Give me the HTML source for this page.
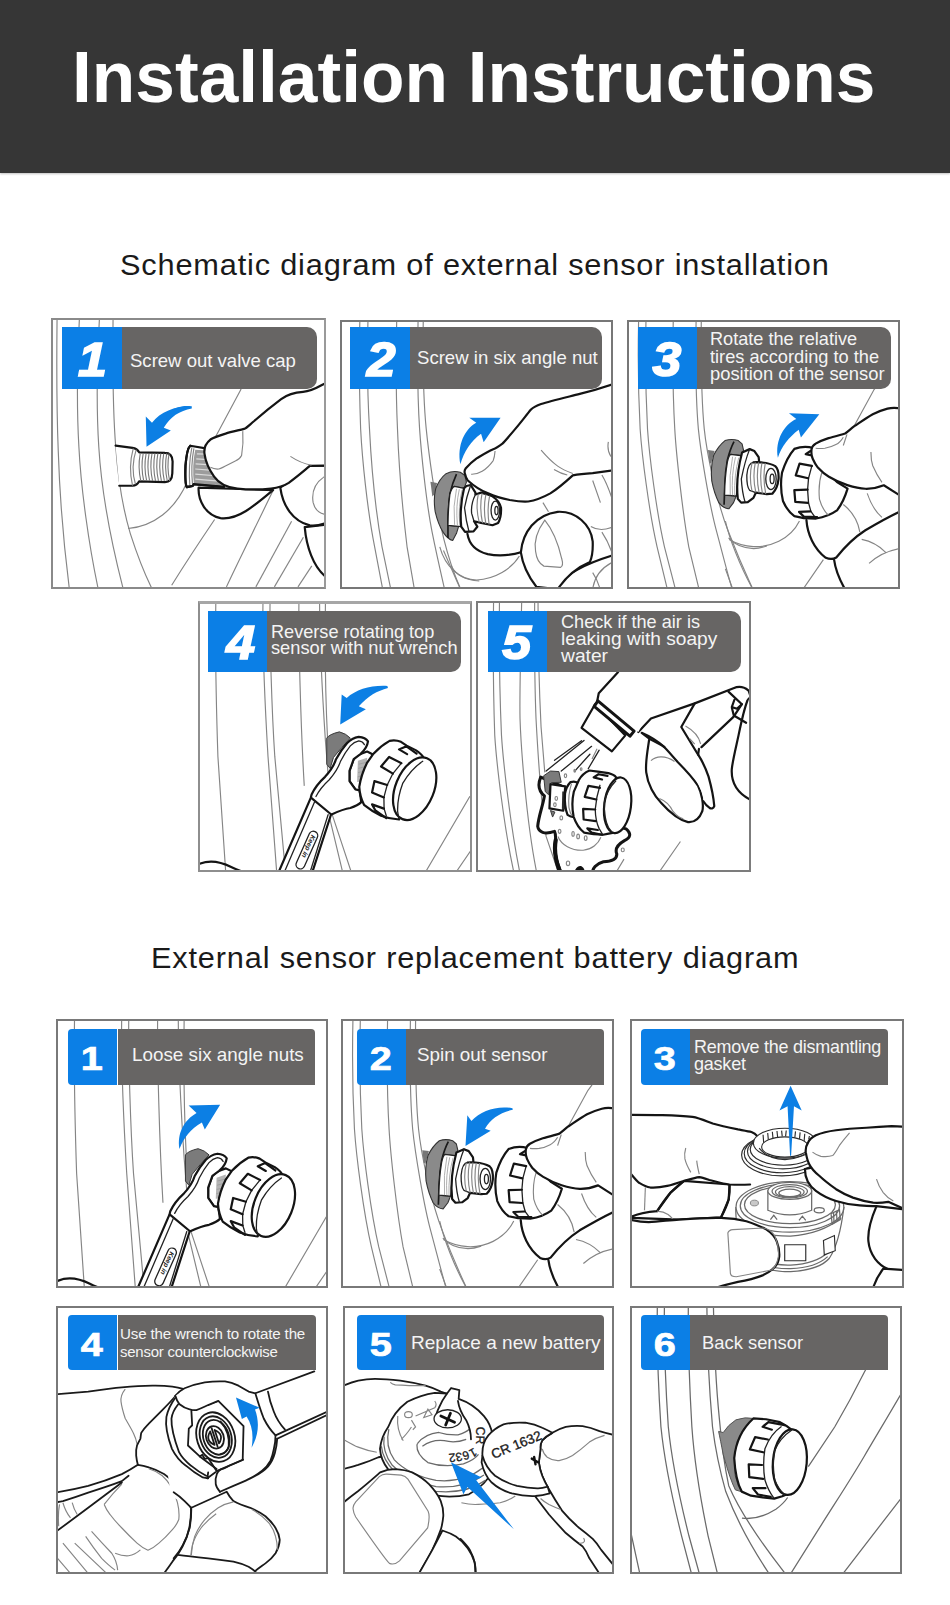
<!DOCTYPE html>
<html><head><meta charset="utf-8"><title>Installation Instructions</title>
<style>
html,body{margin:0;padding:0;background:#fff}
body{width:950px;height:1605px;position:relative;overflow:hidden;font-family:"Liberation Sans",sans-serif}
.hd{position:absolute;left:0;top:0;width:950px;height:172.5px;background:#363636;box-shadow:0 1px 2px rgba(0,0,0,.25)}
.ttl{position:absolute;left:72px;top:0;white-space:nowrap;color:#fff;font-weight:bold;font-size:72px;line-height:72px;transform-origin:0 0}
.sub{position:absolute;white-space:nowrap;color:#1a1a1a;font-size:29px;line-height:29px;transform-origin:0 0}
.pn{position:absolute;box-sizing:border-box;border:2px solid #808080;background:#fff;overflow:hidden}
.pn svg.il{position:absolute;left:-2px;top:-2px;display:block}
.bl{position:absolute;background:#0b7fe6}
.gl{position:absolute;background:#676564}
.nA,.nB{position:absolute;color:#fff;text-align:center;font-weight:bold}
.nA{font-style:italic;font-size:48px;-webkit-text-stroke:1.7px #fff;transform:translate(-0.5px,2.2px) scaleX(1.08)}
.nB{font-size:33px;-webkit-text-stroke:.7px #fff;transform:translate(-0.8px,2.4px) scaleX(1.2)}
.lt{position:absolute;white-space:nowrap;color:#f4f4f4;transform-origin:0 0}
.il *{vector-effect:non-scaling-stroke}
.k{stroke:#141414;stroke-width:2.2;fill:none;stroke-linecap:round;stroke-linejoin:round}
.kw{stroke:#141414;stroke-width:2.2;fill:#fff;stroke-linecap:round;stroke-linejoin:round}
.k1{stroke:#222;stroke-width:1.3;fill:none;stroke-linecap:round;stroke-linejoin:round}
.k1w{stroke:#222;stroke-width:1.3;fill:#fff;stroke-linecap:round;stroke-linejoin:round}
.k3w{stroke:#141414;stroke-width:3;fill:#fff;stroke-linecap:round;stroke-linejoin:round}
.kb{stroke:#1a1a1a;stroke-width:1.8;fill:none;stroke-linecap:round;stroke-linejoin:round}
.kbw{stroke:#1a1a1a;stroke-width:1.8;fill:#fff;stroke-linecap:round;stroke-linejoin:round}
.g{stroke:#858585;stroke-width:1.15;fill:none}
.gw{stroke:#858585;stroke-width:1.15;fill:#fff}
.gd{stroke:#6a6a6a;stroke-width:1.25;fill:none}
.rg{stroke:#2c2c2c;stroke-width:1.15;fill:none}
.rgw{stroke:#2c2c2c;stroke-width:1.15;fill:#fff}
.gdw{stroke:#6a6a6a;stroke-width:1.25;fill:#fff}
.g2{stroke:#9a9a9a;stroke-width:.8;fill:none}
.b{fill:#0c7fe4;stroke:none}
.dg{fill:#7b7b7b;stroke:#3a3a3a;stroke-width:1;stroke-linejoin:round}
.w{fill:#fff;stroke:none}
</style></head><body>
<div class="hd"></div>
<div class="ttl" id="ttl" style="letter-spacing:0.000px;transform:scaleX(0.9893);top:40.6px">Installation Instructions</div>
<div class="sub" id="s1" style="letter-spacing:0.771px;transform:scaleX(1.0598);left:120.2px;top:250.5px">Schematic diagram of external sensor installation</div>
<div class="sub" id="s2" style="letter-spacing:0.788px;transform:scaleX(1.0585);left:150.8px;top:944.2px">External sensor replacement battery diagram</div>

<div class="pn" style="left:51.0px;top:318.2px;width:275.3px;height:270.4px;border-color:#8a8a8a;border-width:2.5px 2.8px 2.2px 2px;border-right-color:#9a9a9a;">
<svg class="il" style="left:-2px;top:-2.5px" width="275.3" height="270.4" viewBox="51.0 318.2 275.3 270.4">
<!-- a1: left half, zoom offset (50,385) scale 6.786 -->
<g transform="translate(50,385) scale(0.14737)">
 <path class="g" d="M48,-460 C44,-100 50,300 56,450 C64,700 95,1100 132,1390"/>
 <path class="g" d="M200,-460 C182,-100 186,250 196,420 C210,700 262,1080 328,1390"/>
 <path class="g" d="M336,-460 C316,-100 320,250 331,420 C348,700 410,1050 498,1390"/>
 <path class="g" d="M428,-460 C424,-100 428,200 446,420 C462,640 500,860 545,1010 C590,1150 640,1280 695,1390"/>
 <path class="g" d="M530,975 C700,960 850,850 930,660"/>
 <!-- stem -->
 <path class="kw" d="M445,413 L560,428 Q590,432 605,458 L780,462 Q830,462 832,520 L830,600 Q828,660 780,660 L605,655 Q590,684 560,685 L470,685"/>
 <path class="g" d="M585,440 Q545,560 580,675 M565,432 Q530,560 560,684"/>
 <path d="M612,468 Q595,560 616,652 M632,468 Q615,560 636,652 M652,468 Q635,560 656,652 M672,468 Q655,560 676,652 M692,468 Q675,560 696,652 M712,466 Q695,560 716,652 M732,466 Q715,560 736,652 M752,466 Q735,560 756,652 M772,466 Q755,560 776,652 M792,466 Q775,560 796,652 M808,466 Q791,560 812,652" stroke="#777" stroke-width="1.1" fill="none"/>
 <!-- arrow -->
 <path class="b" d="M650,215 L655,420 L820,310 L772,292 C815,215 880,175 962,160 L962,146 C860,142 750,180 692,258 Z"/>
</g>
<!-- a1: right half, zoom offset (170,385) scale 5.9375 -->
<g transform="translate(170,385) scale(0.16842)">
 <path class="b" d="M-20,170 C30,130 80,122 128,128 C80,140 30,170 -20,215 Z"/>
 <path class="g" d="M505,-330 C470,-150 440,-20 420,30 L270,310"/>
 <path class="g" d="M10,1190 C60,1110 130,1000 265,800"/>
 <path class="g" d="M335,1200 C400,1060 500,860 612,628"/>
 <path class="g" d="M510,1200 L722,810"/>
 <path class="g" d="M620,1200 L792,905"/>
 <path class="g" d="M760,1200 L842,1075"/>
 <!-- cap -->
 <path class="kw" d="M120,362 Q100,380 92,480 Q88,590 100,608 L135,600 L140,590 L320,606 L330,560 L230,380 Z"/>
 <path class="g" d="M130,372 Q108,480 118,600 M142,378 Q122,480 134,596"/>
 <path d="M150,385 L215,390 L325,600 L142,588 Q130,480 150,385Z" fill="#9c9c9c"/>
 <path d="M160,410 L215,412 M156,440 L225,444 M152,470 L240,476 M150,500 L255,508 M150,530 L270,540 M150,560 L290,572" stroke="#dcdcdc" stroke-width="1.2" fill="none"/>
 <path class="k" d="M120,362 Q100,380 92,480 Q88,590 100,608 L135,600 L140,590 L320,606"/>
 <!-- thumb under -->
 <path class="kw" d="M170,610 C165,690 215,775 300,792 C400,805 500,720 612,625 Z"/>
 <!-- 2nd / 3rd fingers -->
 <path class="kw" d="M800,845 C810,960 850,1080 925,1140 L925,830 Z"/>
 <path class="kw" d="M655,610 C670,720 730,810 830,835 C870,840 900,830 925,820 L925,480 L830,480 Z"/>
 <path class="g" d="M925,540 C860,580 840,640 850,700 C860,740 890,765 925,770"/>
 <!-- index finger -->
 <path class="kw" d="M925,-10 L905,0 C860,25 820,40 790,42 C740,45 700,55 660,85 C600,130 540,180 500,215 C470,240 455,258 440,262 C400,272 360,280 330,290 C290,302 255,315 240,325 C215,345 200,375 205,410 C210,450 230,500 262,545 C290,585 340,610 400,616 C460,622 540,622 600,616 C650,610 680,598 705,582 C750,550 790,515 830,482 L925,480 Z"/>
 <path class="g" d="M432,275 C436,330 432,380 425,420 C415,440 400,448 388,452 C350,470 320,490 290,500 C270,502 255,498 240,490"/>
 <path class="g" d="M715,425 C745,445 790,468 840,478"/>
</g>

</svg></div>
<div class="bl" style="left:62.4px;top:327.4px;width:59.8px;height:61.9px;border-radius:0"></div>
<div class="gl" style="left:122.2px;top:327.4px;width:194.5px;height:61.9px;border-radius:0 10px 10px 0"></div>
<div class="nA" style="left:63.4px;top:327.4px;width:59.8px;height:61.9px;line-height:61.9px">1</div>
<div class="lt" id="t_a1_0" style="left:130.2px;top:351.5px;font-size:18.5px;line-height:18.5px;letter-spacing:0.000px;transform:scaleX(1.0020)">Screw out valve cap</div>
<div class="pn" style="left:340.2px;top:320.3px;width:272.8px;height:268.4px;border-color:#777;border-width:2px 2px 2px 2px;">
<svg class="il" style="left:-2px;top:-2px" width="272.8" height="268.4" viewBox="340.2 320.3 272.8 268.4">
<!-- a2 left: offset (338,385) scale 6.786 -->
<g transform="translate(338,385) scale(0.14737)">
 <path class="g" d="M150,-450 C140,-100 150,150 155,300 C165,500 200,850 250,1100 L305,1390"/>
 <path class="g" d="M205,-450 C196,-100 206,150 215,300 C225,500 255,850 300,1100 L360,1390"/>
 <path class="g" d="M400,-450 C392,-100 398,150 405,300 C412,500 440,850 470,1100 L520,1390"/>
 <path class="g" d="M545,-450 C538,-100 545,150 555,300 C565,450 600,800 640,1000 C670,1150 700,1280 725,1390"/>
 <path class="g" d="M580,-450 C575,-100 585,150 600,300 C615,450 660,800 720,1050 C750,1170 790,1290 835,1390"/>
 <path class="g" d="M770,1230 C800,1290 860,1325 960,1332"/>
 <!-- grommet: offset (415,455) scale 10.556 -->
 <g transform="translate(522.5,475) scale(0.64286)">
 <path d="M165,285 L235,300 L205,420 L185,440Z" fill="#777"/>
 <path d="M480,185 Q400,165 330,200 Q260,255 220,360 Q195,470 215,600 Q245,730 300,820 Q350,895 400,905 L440,830 L462,760 L350,745 Q352,560 370,420 Q390,330 420,335 L520,355 L545,290 L530,220 Z" fill="#8a8a8a" stroke="#333" stroke-width="1.1" stroke-linejoin="round"/>
 <path d="M440,205 Q395,300 370,420 Q352,560 350,700 L350,880" fill="none" stroke="#1a1a1a" stroke-width="1.7"/>
 <path class="k1w" d="M420,335 L520,355 Q478,560 490,760 L350,745 Q352,560 370,420 Q390,345 420,335Z"/>
 <path class="g2" d="M440,360 Q400,540 420,740 M470,365 Q430,540 450,745 M500,370 Q455,540 475,750"/>
 </g>
</g>
<!-- a2 right: offset (440,385) scale 5.4286 -->
<g transform="translate(440,385) scale(0.18421)">
 <path class="g" d="M0,880 C30,990 110,1060 200,1060 C300,1055 390,1000 432,930"/>
 <path class="g" d="M20,900 L112,1110"/>
 <!-- lower finger -->
 <path class="w" d="M150,810 C160,870 200,905 260,920 C330,935 390,925 445,908 L470,1020 L520,1095 L640,1110 L700,1020 L820,962 L945,925 L945,465 L600,600 L200,780 Z"/>
 <path class="k" d="M150,810 C160,870 200,905 260,920 C330,935 390,925 445,908"/>
 <path class="k" d="M632,1100 C690,1020 810,965 945,925"/>
 <path class="g" d="M830,1110 C840,1040 880,990 945,960"/>
 <!-- thumb -->
 <path class="kw" d="M440,910 C450,800 520,705 640,690 C740,685 820,760 830,850 C832,900 825,940 815,962 C760,985 700,1020 640,1110 L525,1098 C480,1040 450,980 440,910Z"/>
 <path class="g" d="M570,735 C530,790 510,850 520,905 C525,945 545,975 565,985 L655,992 C670,985 668,965 662,945 C645,870 615,790 570,735Z"/>
 <!-- nut + thread: offset (415,455) scale 10.556 -->
 <g transform="translate(-135.7,380) scale(0.51429)">
 <path class="kw" d="M545,330 L590,320 L640,400 L640,420 L700,400 Q780,420 820,440 Q895,490 910,560 Q915,660 880,720 L820,745 L700,720 L625,702 L660,760 L620,810 L530,815 L490,760 Q470,560 520,355 Z"/>
 <path class="k1" d="M640,420 Q590,520 600,620 L625,702 M590,320 Q545,450 525,560 Q540,700 572,812"/>
 <ellipse class="k1" cx="850" cy="590" rx="45" ry="100"/><ellipse class="k1" cx="862" cy="590" rx="17" ry="44"/>
 <path class="g" d="M670,415 Q640,560 680,715 M710,405 Q680,560 715,722 M750,418 Q720,570 750,730 M790,432 Q760,580 785,738"/>
 </g>
 <!-- arrow -->
 <path class="b" d="M112,432 C92,330 135,240 198,206 L160,180 L330,180 L238,312 L224,266 C170,305 130,365 112,432Z"/>
 <!-- index finger -->
 <path class="kw" d="M945,-5 L930,0 C870,20 800,40 760,50 C690,68 600,90 550,105 C520,115 505,125 495,135 C470,165 440,205 410,240 C385,270 360,300 340,320 C320,335 305,345 290,350 C255,365 225,385 200,400 C175,418 155,438 140,455 C133,465 133,475 137,485 C140,500 145,512 152,520 C185,550 225,575 262,590 C300,607 340,618 380,626 C420,633 455,636 480,634 C520,628 560,612 600,590 C640,565 680,530 722,492 C760,485 800,482 830,480 L945,465Z"/>
 <path class="g" d="M300,360 C298,385 295,400 290,412 C270,440 250,458 230,470 C210,482 190,487 170,486"/>
 <path class="g" d="M550,355 C580,390 610,420 640,442 C665,460 695,472 722,482 M620,460 C645,475 668,485 692,490"/>
 <path class="g" d="M830,520 L872,640 M880,490 C910,540 930,600 945,650"/>
 <path class="g" d="M820,770 C860,795 900,790 945,770 M880,800 C900,830 920,870 932,905 M830,1020 C850,1050 862,1080 870,1110 M915,310 C910,340 915,370 930,390"/>
 <path class="g" d="M560,640 L590,690"/>
</g>

</svg></div>
<div class="bl" style="left:350.3px;top:327.4px;width:59.5px;height:61.5px;border-radius:0"></div>
<div class="gl" style="left:409.8px;top:327.4px;width:192.5px;height:61.5px;border-radius:0 10px 10px 0"></div>
<div class="nA" style="left:352.3px;top:327.4px;width:59.5px;height:61.5px;line-height:61.5px">2</div>
<div class="lt" id="t_a2_0" style="left:417.2px;top:348.5px;font-size:18.5px;line-height:18.5px;letter-spacing:0.000px;transform:scaleX(1.0042)">Screw in six angle nut</div>
<div class="pn" style="left:626.6px;top:320.3px;width:273.4px;height:268.4px;border-color:#777;border-width:2px 2px 2px 2px;">
<svg class="il" style="left:-2px;top:-2px" width="273.4" height="268.4" viewBox="626.6 320.3 273.4 268.4">
<g id="spn">
<!-- a3 left: offset (625,385) scale 6.786 -->
<g transform="translate(625,385) scale(0.14737)">
 <path class="g" d="M90,-450 C82,-100 92,150 100,300 C112,480 160,860 215,1100 L285,1390"/>
 <path class="g" d="M140,-450 C132,-100 142,150 150,300 C162,480 210,860 265,1100 L340,1390"/>
 <path class="g" d="M325,-450 C318,-100 326,150 335,300 C345,480 390,880 430,1100 L500,1390"/>
 <path class="g" d="M480,-450 C474,-100 482,150 495,300 C510,450 570,820 620,1000 C655,1130 690,1270 725,1390"/>
 <path class="g" d="M515,-450 C512,-100 520,150 535,300 C550,450 620,800 700,1000 C750,1130 810,1270 866,1390"/>
 <path class="g" d="M700,1040 C740,1085 800,1110 870,1112 C900,1112 930,1105 960,1095"/>
 <!-- grommet: offset (700,430) scale 10.556 -->
 <g transform="translate(508.9,305.4) scale(0.64286)">
 <path d="M80,215 L150,225 L112,360 L95,345Z" fill="#777"/>
 <path d="M400,115 Q330,92 260,115 Q190,170 140,270 Q105,400 120,540 Q145,670 195,770 Q240,830 300,835 L350,770 L378,700 L255,690 Q258,500 285,340 Q300,265 320,260 L440,275 L455,215 L440,150Z" fill="#8a8a8a" stroke="#333" stroke-width="1.1" stroke-linejoin="round"/>
 <path d="M355,125 Q315,200 285,320 Q262,450 258,580 L250,792" fill="none" stroke="#1a1a1a" stroke-width="1.7"/>
 <path class="k1w" d="M320,260 L440,275 Q395,460 380,700 L255,690 Q258,500 285,340 Q300,270 320,260Z"/>
 <path class="g2" d="M340,285 Q300,480 315,690 M370,290 Q325,480 340,692 M405,295 Q355,480 362,696"/>
 </g>
</g>
<!-- a3 right: offset (725,385) scale 5.4286 -->
<g transform="translate(725,385) scale(0.18421)">
 <path class="g" d="M20,840 C100,885 200,895 290,850 C340,825 380,785 402,740"/>
 <path class="g" d="M0,740 C20,830 80,990 152,1115 M425,1105 L532,950 M0,1000 L42,1115"/>
 <path class="g" d="M870,-80 C850,-30 830,0 805,30 L690,240"/>
 <!-- nut + thread: offset (700,430) scale 10.556 -->
 <g transform="translate(-135.7,244.3) scale(0.51429)">
 <path class="kw" d="M440,240 L520,205 L570,225 L615,290 L620,340 L560,345 L640,345 Q740,355 790,385 Q830,420 825,520 Q815,620 760,675 L700,680 L585,665 L560,720 L500,765 L430,770 L395,730 Q370,500 440,240Z"/>
 <path class="k1" d="M560,345 Q500,350 490,480 Q488,600 520,640 L585,665 M520,205 Q470,330 432,520 Q440,660 472,766"/>
 <ellipse class="k1" cx="745" cy="520" rx="55" ry="112"/><ellipse class="k1" cx="757" cy="520" rx="21" ry="50"/>
 <path class="g" d="M545,350 Q510,500 545,650 M580,345 Q548,500 585,662 M615,345 Q585,500 620,668 M650,348 Q620,500 655,675 M685,352 Q655,505 690,680"/>
 </g>
 <!-- lower fingers -->
 <path class="w" d="M440,735 C445,810 480,890 545,940 L590,950 L610,1030 L652,1115 L945,1115 L945,600 L660,600Z"/>
 <path class="g" d="M640,650 C690,690 720,740 730,800 M770,590 C790,650 820,695 850,720 M740,840 C790,850 840,880 870,910 M780,970 C830,925 890,900 945,890"/>
 <path class="k" d="M440,735 C445,810 480,890 545,940 C570,950 590,945 602,938 C640,890 690,835 760,790 C820,755 880,720 945,690 M590,950 C598,1010 620,1060 652,1115"/>
 <!-- sensor cap: offset (775,435) scale 10.556 -->
 <g transform="translate(271.4,271.4) scale(0.51429)">
 <path class="kw" d="M400,140 Q300,112 200,150 Q120,240 70,400 Q45,550 80,700 Q125,805 200,860 L300,880 L430,885 Q560,865 650,800 Q720,710 762,570 L650,500 L450,300 Z"/>
 <path class="k1" d="M385,330 L350,460 L340,580 L350,720 L375,810 L420,872"/>
 <path class="k" d="M385,330 L255,305 L215,430 L345,460 M340,580 L200,585 L210,710 L345,720 M375,170 L320,205 L370,215 M370,810 L250,815 L300,865 L440,870"/>
 <path class="g" d="M490,400 Q450,520 465,680 Q495,790 560,850"/>
 </g>
 <!-- index finger -->
 <path class="kw" d="M945,128 C920,124 895,126 880,130 C850,138 825,148 800,160 C765,180 730,205 700,225 C680,240 665,255 650,265 C620,275 590,282 560,290 C535,298 510,308 490,320 C478,328 470,338 468,350 C465,370 468,388 474,402 C482,420 492,438 502,450 C520,470 540,488 562,500 C595,520 630,535 662,545 C695,555 730,563 760,565 C795,566 830,558 860,546 L945,600Z"/>
 <path class="g" d="M640,285 C628,305 615,318 600,325 C580,336 560,342 540,345 C522,347 505,347 490,345"/>
 <path class="g" d="M660,270 L640,330 M790,365 C790,400 795,425 800,440 C815,475 832,505 850,530"/>
</g>
</g>
<g transform="translate(725,385) scale(0.18421)">
 <path class="b" d="M285,397 C268,300 320,215 385,186 L345,155 L510,160 L410,287 L398,245 C345,285 305,335 285,397Z"/>
</g>

</svg></div>
<div class="bl" style="left:638.3px;top:327.4px;width:58.9px;height:61.9px;border-radius:0"></div>
<div class="gl" style="left:697.2px;top:327.4px;width:193.9px;height:61.9px;border-radius:0 10px 10px 0"></div>
<div class="nA" style="left:638.3px;top:327.4px;width:58.9px;height:61.9px;line-height:61.9px">3</div>
<div class="lt" id="t_a3_0" style="left:709.9px;top:330.2px;font-size:18.5px;line-height:18.5px;letter-spacing:0.000px;transform:scaleX(0.9796)">Rotate the relative</div>
<div class="lt" id="t_a3_1" style="left:709.9px;top:347.6px;font-size:18.5px;line-height:18.5px;letter-spacing:0.000px;transform:scaleX(0.9847)">tires according to the</div>
<div class="lt" id="t_a3_2" style="left:709.9px;top:364.7px;font-size:18.5px;line-height:18.5px;letter-spacing:0.000px;transform:scaleX(0.9923)">position of the sensor</div>
<div class="pn" style="left:198.2px;top:601.0px;width:273.4px;height:271.1px;border-color:#8e8e8e;border-width:3.5px 2.6px 2.2px 2px;border-top-color:#a6a6a6;">
<svg class="il" style="left:-2px;top:-3.5px" width="273.4" height="271.1" viewBox="198.2 601.0 273.4 271.1">
<!-- a4 whole: offset (196,668) scale 3.393 -->
<g transform="translate(196,668) scale(0.29474)">
 <path class="g" d="M68,-230 C66,-100 70,150 75,300 L102,700"/>
 <path class="g" d="M228,-230 C226,-100 236,150 245,300 L275,700"/>
 <path class="g" d="M252,-230 C250,-100 258,150 268,300 L305,700"/>
 <path class="g" d="M350,-230 C348,-100 356,200 368,400"/>
 <path class="g" d="M420,-230 C420,-100 430,100 440,250 L452,400"/>
 <path class="g" d="M440,-230 C438,-100 440,100 447,240"/>
 <path class="g" d="M452,500 L500,700 M462,495 L530,700"/>
 <path class="g" d="M930,435 L775,700 M950,595 L878,700"/>
 <path class="k" d="M5,668 C40,650 80,655 120,675 C140,685 160,692 180,698"/>
 <path class="b" d="M495,90 L490,192 L577,140 L553,130 C585,95 615,78 652,68 L650,61 C595,58 545,72 512,102Z"/>
</g>
<!-- a4 detail: offset (300,680) scale 5.9375 ; reusable wrench+sensor -->
<g id="wrs"><g transform="translate(300,680) scale(0.16842)">
 <!-- grommet -->
 <path class="dg" d="M160,345 Q175,322 235,308 Q275,318 300,345 L250,400 L200,460 L180,525 L160,500Z"/>
 <!-- nut + thread -->
 <path class="kw" d="M320,470 L345,445 L400,425 L440,445 L420,640 L355,655 L330,650 L295,600 L295,540Z"/>
 <path d="M345,480 L400,462 L392,600 L340,605Z" fill="#b5b5b5"/>
 <path class="g2" d="M350,500 L398,488 M348,525 L396,512 M346,550 L395,538 M344,575 L394,563"/>
 <!-- wrench -->
 <path class="kw" d="M405,365 Q390,342 350,338 Q310,345 280,375 Q245,415 215,470 Q200,520 150,575 Q95,625 70,680 L65,700 L-173,1250 L39,1250 L185,800 Q260,765 300,760 Q345,745 365,725 L355,655 L330,650 L295,600 L295,540 L320,470 L360,440 Q400,405 405,365Z"/>
 <path class="k1" d="M384,384 Q374,364 350,361 Q322,367 300,391 Q270,428 242,482 Q225,535 175,592 Q122,640 96,692"/>
 <path class="k" d="M68,700 L185,797"/>
 <path class="k1" d="M90,718 L-130,1230 M168,800 L30,1240"/>
 <g transform="translate(42,1010) rotate(-66)"><rect class="k1w" x="-120" y="-26" width="240" height="52" rx="26"/>
  <text x="-96" y="13" font-family="Liberation Sans" font-weight="bold" font-style="italic" font-size="40" fill="#222" transform="rotate(180)">Keep in</text></g>
 </g>
 <!-- sensor: offset (350,730) scale 10.556 -->
 <g transform="translate(350,730) scale(0.094737)">
 <path class="kw" d="M250,250 Q330,165 420,115 Q480,100 540,125 L600,165 L700,215 Q760,255 778,292 L520,945 Q420,940 330,905 Q230,855 150,790 Q105,700 100,600 Q120,470 180,350 Z"/>
 <path class="k1" d="M545,350 L455,460 L395,580 L360,712 L362,830 L385,905"/>
 <path class="k" d="M545,350 L415,285 L330,385 L455,460 M395,580 L260,540 L235,660 L360,712 M605,255 L520,205 L598,172 L705,250 M360,830 L235,785 L270,850 L385,930"/>
 <ellipse class="kw" cx="685" cy="620" rx="203" ry="346" transform="rotate(22 685 620)"/>
 <path class="k1" d="M770,330 Q650,410 560,560 Q500,720 505,860 Q510,910 525,935"/>
 </g>
</g>

</svg></div>
<div class="bl" style="left:208.3px;top:610.9px;width:58.3px;height:60.7px;border-radius:0"></div>
<div class="gl" style="left:266.6px;top:610.9px;width:194.5px;height:60.7px;border-radius:0 10px 10px 0"></div>
<div class="nA" style="left:212.3px;top:610.9px;width:58.3px;height:60.7px;line-height:60.7px">4</div>
<div class="lt" id="t_a4_0" style="left:270.7px;top:622.6px;font-size:18.5px;line-height:18.5px;letter-spacing:0.000px;transform:scaleX(0.9802)">Reverse rotating top</div>
<div class="lt" id="t_a4_1" style="left:270.7px;top:639.4px;font-size:18.5px;line-height:18.5px;letter-spacing:0.000px;transform:scaleX(0.9862)">sensor with nut wrench</div>
<div class="pn" style="left:476.3px;top:601.0px;width:274.7px;height:270.8px;border-color:#7c7c7c;border-width:2px 2px 2px 2px;">
<svg class="il" style="left:-2px;top:-2px" width="274.7" height="270.8" viewBox="476.3 601.0 274.7 270.8">
<!-- a5 left-bottom: offset (474,668) scale 5.9375 -->
<g transform="translate(474,668) scale(0.16842)">
 <path class="g" d="M118,-400 C114,-100 118,200 125,400 C135,560 180,950 240,1220"/>
 <path class="g" d="M153,-400 C150,-100 156,200 165,400 C175,560 220,950 275,1220"/>
 <path class="g" d="M285,-400 C278,-100 272,150 275,300 C280,450 310,900 375,1220"/>
 <path class="g" d="M362,-400 C360,-100 364,150 370,300 C378,450 400,800 430,1000 L505,1220"/>
 <path class="g" d="M382,-400 C382,-100 390,150 400,350 L422,620"/>
 <path class="g" d="M500,1000 C520,1050 580,1085 650,1082 C700,1078 740,1045 755,1005"/>
 <!-- spray -->
 <path class="k1" d="M655,430 L430,612 M640,432 L480,548 M700,465 L520,612 M690,512 L600,612 M745,488 L680,598" stroke-width=".9"/>
 <!-- soap blob -->
 <path class="k3w" d="M398,648 C380,690 385,730 420,760 C410,820 385,880 380,940 C385,975 420,990 480,970 C495,1000 480,1050 482,1080 C485,1140 505,1180 525,1230 L705,1230 C700,1190 730,1160 770,1150 C810,1150 850,1140 850,1105 C835,1070 860,1045 895,1025 C935,1005 935,980 905,955 L700,900 L520,700Z"/>
 <path d="M592,1230 C598,1192 622,1168 642,1178 C660,1190 662,1212 655,1230Z" fill="#111"/>
 <path d="M487,1022 C476,1080 484,1140 514,1215" stroke="#111" stroke-width="4.2" fill="none" stroke-linecap="round"/>
 <path class="g" d="M500,1000 C520,1050 580,1085 650,1082 C700,1078 740,1045 755,1005"/>
 <g class="g" fill="#fff"><ellipse cx="545" cy="640" rx="7" ry="11"/><ellipse cx="520" cy="890" rx="8" ry="12"/><ellipse cx="510" cy="970" rx="8" ry="12"/><ellipse cx="590" cy="985" rx="7" ry="14"/><ellipse cx="620" cy="1000" rx="8" ry="14"/><ellipse cx="665" cy="1010" rx="8" ry="14"/><ellipse cx="885" cy="1080" rx="9" ry="11"/><ellipse cx="560" cy="1160" rx="10" ry="14"/><ellipse cx="600" cy="610" rx="5" ry="8"/><ellipse cx="638" cy="600" rx="5" ry="8"/></g>
 <!-- grommet, nut, sensor: offset (535,760) scale 9.5 -->
 <g transform="translate(362.2,546.3) scale(0.625)">
 <path class="dg" d="M85,150 L150,105 L230,110 L252,212 L160,215 L150,230 L132,330 L100,300Z M150,480 L192,495 L170,542Z"/>
 <path class="kw" d="M150,230 L290,250 L272,482 L140,460Z"/>
 <g class="g" fill="#fff"><ellipse cx="205" cy="365" rx="12" ry="18"/><ellipse cx="192" cy="425" rx="12" ry="18"/></g>
 <path d="M262,300 L300,300 L292,470 L258,462Z" fill="#2a2a2a"/>
 <path class="kw" d="M340,210 Q395,196 415,225 L380,535 Q350,548 312,522 Q280,440 288,320 Q300,250 340,210Z"/>
 <path class="g" d="M350,225 Q315,330 325,450 Q335,505 355,530"/>
 <path class="kw" d="M420,190 Q455,128 520,100 L600,110 L700,125 Q755,140 772,162 L740,692 L690,702 L650,710 L560,705 L470,690 Q405,640 370,540 Q345,420 372,300 Z"/>
 <path class="k1" d="M620,240 Q585,350 575,470 Q578,580 612,652 L642,702"/>
 <path class="k" d="M620,265 L510,245 L475,350 L585,375 M575,470 L460,465 L465,565 L580,580 M640,185 L560,165 L606,135 L692,150 M600,665 L500,650 L540,690 L640,710"/>
 <ellipse class="kw" cx="788" cy="430" rx="127" ry="266" transform="rotate(7 788 430)"/>
 <path class="k1" d="M770,200 Q690,280 662,400 Q655,540 700,640 L732,682"/>
 </g>
</g>
<!-- a5 right: offset (594,668) scale 5.9375 -->
<g transform="translate(594,668) scale(0.16842)">
 <path class="g" d="M515,1030 L390,1210 M180,1135 L135,1210 M890,520 L925,500 M20,480 L-10,540"/>
 <!-- other hand part right -->
 <path class="kw" d="M930,150 C905,200 880,300 860,400 C845,470 825,550 820,600 C815,680 850,740 930,782Z"/>
 <!-- sprayer head -->
 <path class="w" d="M265,380 L340,300 L600,210 L830,120 Q880,100 920,135 L930,165 L880,215 L830,290 L640,470 L625,520 L520,350 L420,470 Z"/>
 <path class="k" d="M265,380 L340,300 L600,210 L830,120 Q880,100 920,135 L930,165 M640,470 L830,290 L880,215"/>
 <path class="k" d="M600,210 L520,350 L620,515 M800,140 L880,215 M835,190 L820,232 L850,242 L880,215 M820,235 L832,282 L905,325"/>
 <!-- bottle + nozzle -->
 <path class="w" d="M175,-20 L140,30 L30,150 L20,200 L265,380 L600,-250Z"/>
 <path class="k" d="M175,-20 L140,30 L30,150 L20,200"/>
 <path class="kw" d="M8,215 L-72,355 L108,495 L188,400Z"/>
 <path class="k3w" d="M25,195 L240,375 L215,405 L3,228Z"/>
 <!-- finger -->
 <path class="kw" d="M285,385 L330,420 C322,480 305,560 312,620 C320,690 360,760 400,800 C440,845 500,900 560,915 C600,918 630,890 645,850 C655,810 640,740 620,700 C580,640 530,590 500,560 C470,525 440,490 420,470 C380,435 320,400 285,385Z"/>
 <path class="k" d="M330,420 C370,440 400,455 420,470"/>
 <path class="w" d="M620,515 C650,560 670,610 682,645 C700,710 712,770 716,820 Q708,840 690,832 Q665,815 650,790 C655,760 640,730 625,700 L560,560Z"/>
 <path class="k" d="M620,515 C650,560 670,610 682,645 C700,710 712,770 716,820 Q708,840 690,832 Q665,815 650,790"/>
 <path class="k" d="M625,480 L620,515"/>
 <path class="g" d="M340,550 C370,525 420,515 480,555 M390,775 C430,790 455,820 470,850 C490,875 510,890 532,896 M545,345 C590,370 625,410 635,450 M570,420 L600,452"/>
</g>

</svg></div>
<div class="bl" style="left:488.3px;top:610.9px;width:58.3px;height:60.7px;border-radius:0"></div>
<div class="gl" style="left:546.6px;top:610.9px;width:194.5px;height:60.7px;border-radius:0 10px 10px 0"></div>
<div class="nA" style="left:488.3px;top:610.9px;width:58.3px;height:60.7px;line-height:60.7px">5</div>
<div class="lt" id="t_a5_0" style="left:561.0px;top:612.9px;font-size:18.5px;line-height:18.5px;letter-spacing:0.000px;transform:scaleX(0.9796)">Check if the air is</div>
<div class="lt" id="t_a5_1" style="left:561.0px;top:630.0px;font-size:18.5px;line-height:18.5px;letter-spacing:0.000px;transform:scaleX(1.0339)">leaking with soapy</div>
<div class="lt" id="t_a5_2" style="left:561.0px;top:647.1px;font-size:18.5px;line-height:18.5px;letter-spacing:0.000px;transform:scaleX(1.0387)">water</div>
<div class="pn" style="left:55.5px;top:1019.2px;width:272.6px;height:269.2px;border-color:#797979;border-width:2px 2px 2px 2px;">
<svg class="il" style="left:-2px;top:-2px" width="272.6" height="269.2" viewBox="55.5 1019.2 272.6 269.2">
<!-- b1: offset (54,1085) scale 3.393 (same art as a4) -->
<g transform="translate(54,1085) scale(0.29474)">
 <path class="g" d="M68,-230 C66,-100 70,150 75,300 L102,700"/>
 <path class="g" d="M228,-230 C226,-100 236,150 245,300 L275,700"/>
 <path class="g" d="M252,-230 C250,-100 258,150 268,300 L305,700"/>
 <path class="g" d="M350,-230 C348,-100 356,200 368,400"/>
 <path class="g" d="M420,-230 C420,-100 430,100 440,250 L452,400"/>
 <path class="g" d="M440,-230 C438,-100 440,100 447,240"/>
 <path class="g" d="M452,500 L500,700 M462,495 L530,700"/>
 <path class="g" d="M930,435 L775,700 M950,595 L878,700"/>
 <path class="k" d="M5,668 C40,650 80,655 120,675 C140,685 160,692 180,698"/>
 <path class="b" d="M424,218 C415,165 440,120 482,96 L455,70 L562,68 L510,152 L500,128 C462,150 438,180 424,218Z"/>
</g>
<use href="#wrs" transform="translate(-142,417)"/>

</svg></div>
<div class="bl" style="left:68.3px;top:1029.4px;width:49.2px;height:55.8px;border-radius:4px 0 0 4px"></div>
<div class="gl" style="left:117.5px;top:1029.4px;width:197.9px;height:55.8px;border-radius:0 4px 0 0"></div>
<div class="nB" style="left:68.3px;top:1029.4px;width:49.2px;height:55.8px;line-height:55.8px">1</div>
<div class="lt" id="t_b1_0" style="left:132.2px;top:1046.4px;font-size:18.5px;line-height:18.5px;letter-spacing:0.000px;transform:scaleX(1.0185)">Loose six angle nuts</div>
<div class="pn" style="left:341.3px;top:1019.2px;width:272.6px;height:269.2px;border-color:#797979;border-width:2px 2px 2px 2px;">
<svg class="il" style="left:-2px;top:-2px" width="272.6" height="269.2" viewBox="341.3 1019.2 272.6 269.2">
<use href="#spn" transform="translate(-285,700)"/>
<g transform="translate(440,1085) scale(0.18421)">
 <path class="b" d="M150,165 L140,332 L277,250 L246,238 C275,185 330,150 397,136 L395,127 C310,112 225,140 172,196Z"/>
</g>

</svg></div>
<div class="bl" style="left:357.1px;top:1029.4px;width:49.2px;height:55.6px;border-radius:4px 0 0 4px"></div>
<div class="gl" style="left:406.3px;top:1029.4px;width:198.1px;height:55.6px;border-radius:0 4px 0 0"></div>
<div class="nB" style="left:357.1px;top:1029.4px;width:49.2px;height:55.6px;line-height:55.6px">2</div>
<div class="lt" id="t_b2_0" style="left:417.2px;top:1046.3px;font-size:18.5px;line-height:18.5px;letter-spacing:0.000px;transform:scaleX(1.0158)">Spin out sensor</div>
<div class="pn" style="left:629.5px;top:1019.2px;width:274.0px;height:269.0px;border-color:#797979;border-width:2px 2px 2px 2px;">
<svg class="il" style="left:-2px;top:-2px" width="274.0" height="269.0" viewBox="629.5 1019.2 274.0 269.0">
<!-- b3 left hand: offset (628,1085) scale 5.9375 -->
<g transform="translate(628,1085) scale(0.16842)">
 <path class="g" d="M100,610 L95,745"/>
 <path class="kw" d="M5,790 C40,770 100,755 170,750 L250,640 L330,570 L600,592 L595,680 L550,787 L300,800Z"/>
 <path class="k" d="M330,570 C300,590 275,615 250,640 C220,675 195,712 170,750 M600,592 C602,625 600,650 595,680 C585,715 568,752 550,785"/>
 <path class="g" d="M170,750 C200,752 220,760 235,770 C248,780 256,788 262,796"/>
 <!-- upper finger -->
 <path class="w" d="M5,178 C80,178 140,178 200,180 C260,182 320,184 380,190 C420,196 460,215 500,230 C550,245 600,255 650,265 C690,272 715,276 730,280 C745,286 755,293 762,302 L740,420 L722,592 C680,594 640,594 600,592 C560,588 520,575 480,565 C460,558 440,550 420,548 C390,552 360,562 330,570 C300,580 265,592 230,600 C195,608 160,612 130,610 C100,605 80,592 60,580 C40,562 25,540 5,520Z"/>
 <path class="k" d="M5,178 C80,178 140,178 200,180 C260,182 320,184 380,190 C420,196 460,215 500,230 C550,245 600,255 650,265 C690,272 715,276 730,280 C745,286 755,293 762,302"/>
 <path class="k" d="M722,592 C680,594 640,594 600,592 C560,588 520,575 480,565 C460,558 440,550 420,548 C390,552 360,562 330,570 C300,580 265,592 230,600 C195,608 160,612 130,610 C100,605 80,592 60,580 C40,562 25,540 5,520"/>
 <path class="g" d="M340,375 C332,400 332,420 335,440 C342,470 355,495 370,520 M405,450 C408,480 414,505 420,530"/>
</g>
<!-- b3 objects: offset (748,1085) scale 5.9375 -->
<g transform="translate(748,1085) scale(0.16842)">
 <!-- lower sensor body -->
 <path class="gdw" d="M-75,730 Q-80,900 -20,1010 Q60,1110 250,1110 Q420,1100 480,1030 Q540,940 566,730Z"/>
 <path class="gd" d="M-30,990 Q100,1075 250,1070 Q400,1065 478,990 M-10,1020 Q100,1095 250,1092 Q400,1085 470,1020 M-66,820 Q60,900 250,898 Q430,888 550,790"/>
 <ellipse class="gdw" cx="246" cy="725" rx="320" ry="150"/>
 <ellipse class="gd" cx="246" cy="718" rx="295" ry="130"/>
 <ellipse class="gd" cx="246" cy="712" rx="270" ry="112"/>
 <path class="rgw" d="M215,950 L340,950 L340,1045 L215,1045Z M445,925 L510,895 L515,985 L450,1010Z"/>
 <path class="gd" d="M490,765 L540,742 L545,800 L497,828Z M505,760 L508,822 M522,752 L526,812"/>
 <ellipse cx="35" cy="702" rx="24" ry="17" fill="#c9c9c9" stroke="#8a8a8a"/>
 <ellipse class="gd" cx="420" cy="745" rx="30" ry="15"/>
 <path class="gd" d="M130,800 L150,775 L170,800 M300,805 L320,780 L340,805"/>
 <!-- boss -->
 <path class="gdw" d="M115,630 L115,745 Q245,800 375,745 L375,630Z"/>
 <ellipse class="gdw" cx="245" cy="630" rx="130" ry="50"/>
 <ellipse class="gd" cx="245" cy="632" rx="105" ry="40"/>
 <ellipse class="gd" cx="245" cy="636" rx="85" ry="31" stroke="#555"/>
 <ellipse class="gd" cx="245" cy="642" rx="65" ry="22"/>
 <!-- gasket ring: offset (735,1120) scale 9.5 -->
 <g transform="translate(-77.2,207.8) scale(0.625)">
 <ellipse class="rgw" cx="440" cy="335" rx="382" ry="198"/>
 <ellipse class="rg" cx="445" cy="320" rx="362" ry="183"/>
 <ellipse class="rgw" cx="450" cy="300" rx="336" ry="166"/>
 <ellipse class="rg" cx="458" cy="280" rx="318" ry="152"/>
 <ellipse class="rgw" stroke-width="1.6" cx="470" cy="222" rx="300" ry="142"/>
 <path class="rg" d="M262,142 L268,220 M306,125 L312,189 M350,114 L356,173 M394,107 L400,164 M438,103 L444,159 M482,102 L476,158 M526,104 L520,161 M570,110 L564,168 M614,119 L608,181 M658,133 L652,202 M702,154 L696,184"/>
 <ellipse class="rgw" cx="470" cy="258" rx="222" ry="96"/>
 <path class="rg" d="M225,270 Q300,370 470,378 Q640,372 715,270"/>
 </g>
 <!-- arrow -->
 <path class="b" d="M250,5 L316,152 L270,128 L253,422 L247,422 L232,128 L184,152Z"/>
 <!-- right hand -->
 <path class="kw" d="M760,720 C730,790 705,860 712,930 C720,1010 770,1070 830,1095 C860,1105 890,1106 925,1105 L925,700Z"/>
 <path class="kw" d="M800,1092 C775,1125 750,1165 738,1215 L925,1215 L925,1100Z"/>
 <path class="kw" d="M335,500 C335,560 360,600 400,630 C440,660 480,678 520,690 C570,706 620,714 660,716 C700,720 735,721 760,720 L925,740 L925,600 L500,470Z"/>
 <path class="kw" d="M925,250 C900,246 875,245 850,245 C800,248 750,252 700,255 C640,258 580,262 520,270 C480,275 435,285 400,300 C378,312 362,325 355,340 C342,360 338,380 340,400 C345,430 350,452 360,470 C375,500 395,520 420,540 C450,568 485,595 520,620 C555,642 590,658 620,670 C660,684 700,694 740,700 C770,702 800,700 830,695 L925,738Z"/>
 <path class="g" d="M600,285 C578,310 558,335 540,360 C525,385 515,405 500,420 C478,428 455,428 430,425 C412,420 395,412 380,400 M760,560 C770,595 785,620 800,640 C820,665 840,680 860,690"/>
</g>
<g transform="translate(628,1085) scale(0.16842)">
 <!-- thumb -->
 <path class="kw" d="M5,800 C45,810 80,815 120,815 C180,812 240,804 300,800 C380,794 470,788 550,790 C600,792 650,798 700,810 C745,825 785,840 820,860 C850,880 870,905 880,930 C892,960 897,990 895,1020 C892,1045 884,1065 870,1080 C850,1102 825,1118 800,1130 C750,1150 700,1162 650,1170 C600,1182 560,1192 520,1205 L5,1215Z"/>
 <path class="g" d="M590,880 Q595,862 620,860 L800,850 Q850,860 870,900 Q895,960 890,1020 Q880,1075 850,1100 L640,1140 Q608,1140 605,1120 Z"/>
</g>

</svg></div>
<div class="bl" style="left:641.2px;top:1029.4px;width:49.2px;height:55.6px;border-radius:4px 0 0 4px"></div>
<div class="gl" style="left:690.4px;top:1029.4px;width:197.8px;height:55.6px;border-radius:0 4px 0 0"></div>
<div class="nB" style="left:641.2px;top:1029.4px;width:49.2px;height:55.6px;line-height:55.6px">3</div>
<div class="lt" id="t_b3_0" style="left:694.3px;top:1038.2px;font-size:18.5px;line-height:18.5px;letter-spacing:-0.262px;transform:scaleX(0.9709)">Remove the dismantling</div>
<div class="lt" id="t_b3_1" style="left:694.3px;top:1055.0px;font-size:18.5px;line-height:18.5px;letter-spacing:-0.238px;transform:scaleX(0.9738)">gasket</div>
<div class="pn" style="left:55.5px;top:1306.0px;width:272.2px;height:268.4px;border-color:#797979;border-width:2px 2px 2px 2px;">
<svg class="il" style="left:-2px;top:-2px" width="272.2" height="268.4" viewBox="55.5 1306.0 272.2 268.4">
<!-- b4 left: offset (54,1368) scale 5.9375 -->
<g transform="translate(54,1368) scale(0.16842)">
 <path class="kb" d="M5,156 C80,150 140,145 200,140 C270,130 340,120 400,115 C470,108 540,104 600,105 C640,106 675,108 700,110 C730,114 752,120 770,125"/>
 <path class="g" d="M420,125 C400,150 392,175 395,200 C400,240 410,270 420,300 C440,335 458,365 470,390 C480,410 486,430 490,450"/>
 <path class="kb" d="M720,165 C690,200 665,225 640,250 C610,280 585,305 560,330 C540,350 525,368 515,385 C512,398 512,410 510,420 C502,435 495,448 490,460 C484,480 483,500 485,520 C487,540 490,558 495,575"/>
 <path class="kb" d="M5,740 C80,728 140,715 200,700 C270,680 340,655 400,630 C440,610 470,592 495,575 M5,800 C20,795 35,792 50,790 C100,775 150,758 200,740 C270,718 340,695 400,672 L440,640 M5,975 L200,830 L400,680"/>
 <path class="kb" d="M495,575 C520,578 540,583 560,590 C595,600 625,615 650,630 C680,650 708,675 730,700 C755,730 775,760 790,790 L810,830 C812,870 808,910 800,950 C792,990 778,1028 760,1060 C745,1090 725,1120 700,1150 C685,1172 668,1195 650,1220"/>
 <path class="g" d="M295,810 C305,835 318,855 330,870 C352,900 375,925 400,950 C430,982 460,1012 490,1040 C510,1058 532,1072 555,1082 C580,1072 600,1058 620,1040 C650,1015 676,988 700,960 C718,940 730,920 738,900 C742,865 738,832 730,800 C722,765 708,730 690,700 C676,678 660,658 640,640 C615,620 588,606 560,598 M400,690 C365,725 330,765 295,810"/>
 <path class="g" d="M360,1100 C390,1112 415,1117 440,1115 C468,1110 490,1098 510,1080 M50,1040 L200,1220 M120,1040 L310,1220 M185,1000 C215,1045 248,1090 280,1130 C310,1160 335,1182 360,1200 M220,970 C260,1015 300,1058 340,1100 C360,1130 372,1165 375,1200 M5,1115 L95,1220 M30,810 C22,850 22,900 25,940 M50,800 C60,835 75,865 95,890 M105,800 C112,828 122,850 135,870"/>
 <path class="g" d="M960,865 C925,890 895,918 870,950 C845,985 828,1018 820,1050 C814,1072 811,1092 810,1112"/>
</g>
<!-- b4 right: offset (174,1368) scale 5.9375 -->
<g transform="translate(174,1368) scale(0.16842)">
 <!-- wrench head fill -->
 <path class="w" d="M5,165 C20,145 40,130 60,120 C100,103 140,92 180,85 C220,80 260,78 300,80 C330,84 355,93 380,105 L440,140 L480,150 L830,20 L920,-20 L920,275 L610,420 L600,400 C600,430 596,455 590,480 C585,506 578,530 570,550 C556,575 540,595 520,610 C495,630 468,646 440,660 C410,676 380,688 350,700 L270,735 L100,830 L-20,760 L-60,500 L-40,250Z"/>
 <!-- sensor ring -->
 <path class="kb" d="M8,172 C-20,210 -40,250 -48,290 C-55,340 -45,400 -15,480 C10,530 40,560 68,580 C100,608 135,632 168,650 L200,655 M22,215 C-2,245 -15,275 -18,300 C-20,350 -10,400 27,500 C45,535 70,558 98,580 C128,605 158,625 188,640"/>
 <!-- hex -->
 <path class="kbw" d="M100,250 L260,195 L410,345 L405,545 L250,612 L200,535 L180,540 L165,515 L150,525 L80,460 L85,360 L105,340Z"/>
 <path class="kb" d="M150,525 L250,600 M200,620 L195,655 L245,618"/>
 <g transform="rotate(-18 245 410)" class="kb">
  <ellipse cx="245" cy="410" rx="112" ry="150"/><ellipse cx="245" cy="410" rx="92" ry="126"/><ellipse cx="247" cy="412" rx="76" ry="106"/>
  <path d="M300,330 Q335,410 300,490 Q275,520 240,515"/>
  <ellipse cx="240" cy="410" rx="52" ry="68"/><path d="M238,352 L238,468 M224,368 Q176,410 224,452Z M252,368 Q300,410 252,452Z"/>
 </g>
 <!-- wrench outline -->
 <path class="kb" d="M5,165 C20,145 40,130 60,120 C100,103 140,92 180,85 C220,80 260,78 300,80 C330,84 355,93 380,105 L440,140 L480,150 L830,20 M905,260 L600,400 M905,280 L610,420 M480,150 C495,200 510,250 530,300 C550,340 572,372 600,400 M555,140 C562,180 574,220 590,260 C605,300 628,335 655,365"/>
 <path class="kb" d="M600,400 C600,430 596,455 590,480 C585,506 578,530 570,550 C556,575 540,595 520,610 C495,630 468,646 440,660 C410,676 380,688 350,700 L270,735 M610,420 C608,450 603,480 596,505 C588,535 575,562 556,584 C535,608 505,628 470,646 C430,668 390,684 350,700"/>
 <path class="kb" d="M270,735 C255,718 247,705 245,690 C242,665 245,645 252,628 C260,612 275,600 290,598 C310,588 330,578 350,570 L408,545"/>
 <path class="w" d="M5,165 C10,185 18,200 30,215 C48,230 68,240 90,245 C105,250 118,252 130,250 C155,242 178,230 200,220 L260,195 L300,90 C260,88 220,90 180,95 C140,102 100,113 60,130Z"/>
 <path class="kb" d="M5,165 C10,185 18,200 30,215 C48,230 68,240 90,245 C105,250 118,252 130,250 C155,242 178,230 200,220 L260,195"/>
 <!-- arrow -->
 <path class="b" d="M365,175 L506,236 L478,246 C506,320 500,400 458,473 C470,400 462,340 428,288 L400,303Z"/>
 <!-- below -->
 <path class="kb" d="M100,830 L310,735 C322,758 336,776 350,790 C380,808 415,820 450,830 C485,845 515,862 540,880 C565,902 585,925 600,950 C615,975 623,998 625,1020 C624,1048 615,1075 600,1100 C585,1122 565,1142 540,1160 C520,1175 500,1188 480,1205 M20,1110 C80,1118 140,1124 200,1130 C250,1135 300,1142 350,1150 C385,1158 415,1168 440,1180 C460,1192 476,1204 490,1220 M-5,738 C20,755 42,772 60,790 L100,830 C100,872 97,912 90,950 C80,988 66,1020 50,1050 C35,1080 18,1105 -5,1130"/>
 <path class="g" d="M100,1110 C102,1070 108,1034 120,1000 C135,962 155,930 180,900 C204,872 230,850 260,830 C290,812 320,801 350,795 M460,840 C500,862 532,890 560,920 C580,945 594,972 600,1000 C608,1030 611,1055 610,1080"/>
</g>

</svg></div>
<div class="bl" style="left:68.3px;top:1315.3px;width:49.2px;height:55.1px;border-radius:4px 0 0 4px"></div>
<div class="gl" style="left:117.5px;top:1315.3px;width:198.3px;height:55.1px;border-radius:0 4px 0 0"></div>
<div class="nB" style="left:68.3px;top:1315.3px;width:49.2px;height:55.1px;line-height:55.1px">4</div>
<div class="lt" id="t_b4_0" style="left:120.4px;top:1326.4px;font-size:15.5px;line-height:15.5px;letter-spacing:-0.174px;transform:scaleX(0.9750)">Use the wrench to rotate the</div>
<div class="lt" id="t_b4_1" style="left:120.4px;top:1344.1px;font-size:15.5px;line-height:15.5px;letter-spacing:-0.249px;transform:scaleX(0.9661)">sensor counterclockwise</div>
<div class="pn" style="left:342.6px;top:1306.0px;width:271.6px;height:268.4px;border-color:#797979;border-width:2px 2px 2px 2px;">
<svg class="il" style="left:-2px;top:-2px" width="271.6" height="268.4" viewBox="342.6 1306.0 271.6 268.4">
<!-- b5 left: offset (341,1368) scale 5.9375 -->
<g transform="translate(341,1368) scale(0.16842)">
 <!-- upper-left finger -->
 <path class="kbw" d="M5,108 C40,92 70,82 100,75 C135,68 165,65 200,65 C250,66 300,70 350,75 C400,82 450,92 500,105 C535,115 565,128 590,140 L630,155 L400,500 L220,530 C180,548 140,562 100,575 C70,584 40,592 5,602Z"/>
 <path class="g" d="M5,420 C40,440 70,458 100,470 C135,484 170,494 210,500 M290,85 C300,94 310,98 320,100 C380,104 440,105 500,105"/>
 <!-- sensor body: offset (370,1375) scale 7.308 -->
 <g transform="translate(172.2,41.6) scale(0.8125)">
 <path class="kbw" d="M130,380 Q170,270 270,195 Q370,145 470,130 L560,135 L590,95 L650,110 L645,175 Q750,210 830,300 Q880,360 890,430 L890,700 Q850,800 720,872 Q600,900 470,880 L300,800 L130,690 Q75,620 70,540 Q80,450 130,380Z"/>
 <path class="gd" d="M135,395 Q105,520 175,620 Q280,730 480,770 Q680,790 820,680 M100,450 Q85,560 160,660 Q270,770 480,815 Q690,830 830,730 M80,520 Q90,620 180,710 Q290,800 480,850 Q700,870 840,770"/>
 <path class="gd" d="M345,500 Q400,430 500,420 Q560,440 640,438 Q700,420 725,395 M340,510 Q335,580 420,640 Q540,680 680,650 Q760,620 790,580 M380,520 Q450,470 540,480 Q620,500 700,470 M345,500 L340,510"/>
 <path class="g" d="M250,290 a28,22 0 1,0 56,0 a28,22 0 1,0 -56,0 M300,330 L330,380 L310,400 M330,300 Q400,270 470,240 Q490,215 470,190 M225,470 Q260,440 300,380 M420,250 L450,290 L390,310Z M200,300 Q190,400 240,480"/>
 <path class="kb" d="M640,190 Q650,260 700,330 Q735,400 735,470 M560,135 Q520,190 500,240 Q475,290 480,330"/>
 <ellipse class="k1w" cx="565" cy="320" rx="100" ry="66"/>
 <path d="M515,300 L615,345 M550,365 L585,280" stroke="#111" stroke-width="2.8" fill="none" stroke-linecap="round"/>
 <path id="crp" d="M772,378 L772,470 Q772,530 720,548 Q650,572 550,580" fill="none" stroke="none"/>
 <text font-family="Liberation Sans" font-size="88" fill="#1a1a1a" stroke="#1a1a1a" stroke-width=".3"><textPath href="#crp">CR 1632</textPath></text>
 </g>
 <!-- thumb -->
 <path class="kbw" d="M5,805 C40,775 70,752 100,730 C145,695 190,655 230,620 C260,606 290,600 320,600 C355,602 390,608 420,620 C460,640 492,662 520,690 C550,722 575,755 590,790 C602,820 606,850 605,880 C602,910 598,935 590,960 C575,1002 560,1040 540,1080 C515,1130 488,1175 455,1230 L5,1230Z"/>
 <path class="g" d="M70,840 Q65,820 85,795 L225,645 Q245,628 270,630 L355,636 Q380,640 395,660 L515,850 Q528,880 512,950 L345,1145 Q315,1172 285,1160 Q262,1140 85,885 Q72,862 70,840Z"/>
 <!-- lower finger -->
 <path class="kbw" d="M600,965 C630,975 655,985 680,1000 C710,1020 732,1044 750,1070 C770,1098 782,1125 790,1150 C795,1175 796,1200 795,1230 L455,1230 L540,1080Z"/>
</g>
<!-- b5 right: offset (461,1368) scale 5.9375 -->
<g transform="translate(461,1368) scale(0.16842)">
 <path class="g" d="M0,800 C40,810 70,812 100,810 C150,808 195,805 230,800 C265,790 295,778 320,760"/>
 <!-- right finger -->
 <path class="kbw" d="M925,402 C880,392 850,384 820,375 C785,360 752,350 720,345 C685,342 650,344 620,350 C590,358 565,370 540,385 C515,398 495,412 480,430 C472,445 468,462 470,480 L460,560 L440,765 C470,805 495,838 520,870 C555,910 588,946 620,980 C655,1010 688,1036 720,1060 C738,1082 750,1105 760,1130 L822,1225 L925,1225Z"/>
 <path class="kb" d="M460,560 C464,590 470,615 480,640 C492,668 505,695 520,720 C545,765 572,808 600,850 C632,888 665,920 700,950 C730,972 756,994 780,1015 C800,1035 816,1058 830,1080 L915,1185"/>
 <path class="g" d="M480,480 C485,500 495,518 510,530 C532,545 556,552 580,550 C610,545 636,535 660,520 C695,495 728,468 760,440 C790,420 820,408 850,400 M470,775 C485,790 502,800 520,810 C545,822 568,832 590,840 M700,1040 C715,1042 726,1038 730,1030 C732,1022 730,1015 725,1010"/>
 <!-- coin cell -->
 <path class="kbw" d="M120,560 C130,610 150,650 180,680 C215,712 255,732 300,745 C345,756 395,762 440,760 C470,758 500,752 525,745 L512,705 L125,520Z"/>
 <path class="kbw" d="M125,520 C122,470 135,430 160,400 C185,372 215,350 250,335 C290,325 335,322 380,325 C415,330 450,340 480,355 C502,365 522,375 540,385 C515,398 495,412 480,430 C472,445 468,462 470,480 L460,560 C464,590 470,615 480,640 C490,665 500,685 512,705 C490,712 470,716 450,715 C408,714 368,708 330,700 C285,688 240,668 200,640 C165,610 138,570 125,520Z"/>
 <text transform="translate(190,540) rotate(-22)" font-family="Liberation Sans" font-size="80" fill="#1a1a1a" stroke="#1a1a1a" stroke-width=".35">CR 1632</text>
 <path d="M418,538 L455,560 M432,528 L440,572" stroke="#111" stroke-width="2.4" fill="none" stroke-linecap="round"/>
 <!-- arrow -->
 <path class="b" d="M-62,560 L120,650 L86,664 L312,958 L36,706 L12,750Z"/>
 <!-- lower finger right part -->
 <path class="kb" d="M-5,1015 C20,1040 38,1060 50,1080 C65,1108 75,1135 80,1160 C84,1182 86,1200 85,1225"/>
</g>

</svg></div>
<div class="bl" style="left:357.1px;top:1315.3px;width:49.2px;height:55.1px;border-radius:4px 0 0 4px"></div>
<div class="gl" style="left:406.3px;top:1315.3px;width:198.1px;height:55.1px;border-radius:0 4px 0 0"></div>
<div class="nB" style="left:357.1px;top:1315.3px;width:49.2px;height:55.1px;line-height:55.1px">5</div>
<div class="lt" id="t_b5_0" style="left:411.3px;top:1333.5px;font-size:18.5px;line-height:18.5px;letter-spacing:0.000px;transform:scaleX(1.0294)">Replace a new battery</div>
<div class="pn" style="left:629.5px;top:1306.2px;width:272.4px;height:268.2px;border-color:#797979;border-width:2px 2px 2px 2px;">
<svg class="il" style="left:-2px;top:-2px" width="272.4" height="268.2" viewBox="629.5 1306.2 272.4 268.2">
<!-- b6: offset (628,1368) scale 3.393 -->
<g transform="translate(628,1368) scale(0.29474)">
 <g class="gd">
 <path d="M98,-220 C96,-100 100,50 110,200 C120,300 150,450 180,570 L218,715"/>
 <path d="M122,-220 C120,-100 125,50 135,200 C145,300 175,450 205,570 L245,715"/>
 <path d="M203,-220 C202,-100 206,50 215,200 C222,300 245,450 270,570 L306,715"/>
 <path d="M266,-220 C266,-100 272,50 285,200 C295,280 310,350 330,420 C360,500 410,600 488,715"/>
 <path d="M288,-220 C290,-100 296,50 308,170 C315,250 325,330 340,400 C370,470 430,570 545,715"/>
 <path d="M5,545 L42,715 M385,510 C420,515 460,505 500,480 C520,465 532,452 540,440"/>
 <path d="M830,-40 L800,15 C770,75 735,140 700,200 L610,335 M950,45 C910,115 850,215 800,300 C750,385 700,460 650,540 L540,715 M950,410 L715,715"/>
 </g>
 <!-- sensor: offset (710,1405) scale 8.636 -->
 <g transform="translate(278.2,125.5) scale(0.39287)">
 <path d="M70,230 L110,240 Q150,175 220,130 Q300,102 372,118 L290,200 L230,320 L205,460 L210,600 L240,700 L272,752 L215,735 Q170,650 110,430 Q85,300 70,230Z" fill="#8a8a8a" stroke="#555" stroke-width="1"/>
 <path class="kw" d="M370,118 L480,125 L600,150 Q660,180 702,216 L650,776 L620,790 L550,810 L450,800 L350,785 L270,750 Q215,650 205,460 Q225,250 370,118Z"/>
 <path class="k1" d="M610,190 Q520,250 470,380 Q448,520 470,650 Q500,745 545,802"/>
 <path class="k" d="M495,300 L385,280 L340,385 L455,410 M445,520 L330,515 L335,625 L455,640 M530,215 L450,190 L500,150 L640,175 M475,720 L365,720 L410,775 L520,795"/>
 <ellipse class="kw" cx="685" cy="495" rx="146" ry="284" transform="rotate(5 685 495)"/>
 <path class="k1" d="M700,220 Q600,285 552,400 Q532,520 555,650 Q590,735 640,776"/>
 </g>
</g>

</svg></div>
<div class="bl" style="left:641.2px;top:1315.3px;width:49.2px;height:55.1px;border-radius:4px 0 0 4px"></div>
<div class="gl" style="left:690.4px;top:1315.3px;width:197.8px;height:55.1px;border-radius:0 4px 0 0"></div>
<div class="nB" style="left:641.2px;top:1315.3px;width:49.2px;height:55.1px;line-height:55.1px">6</div>
<div class="lt" id="t_b6_0" style="left:702.2px;top:1333.5px;font-size:18.5px;line-height:18.5px;letter-spacing:0.000px;transform:scaleX(0.9932)">Back sensor</div>
</body></html>
